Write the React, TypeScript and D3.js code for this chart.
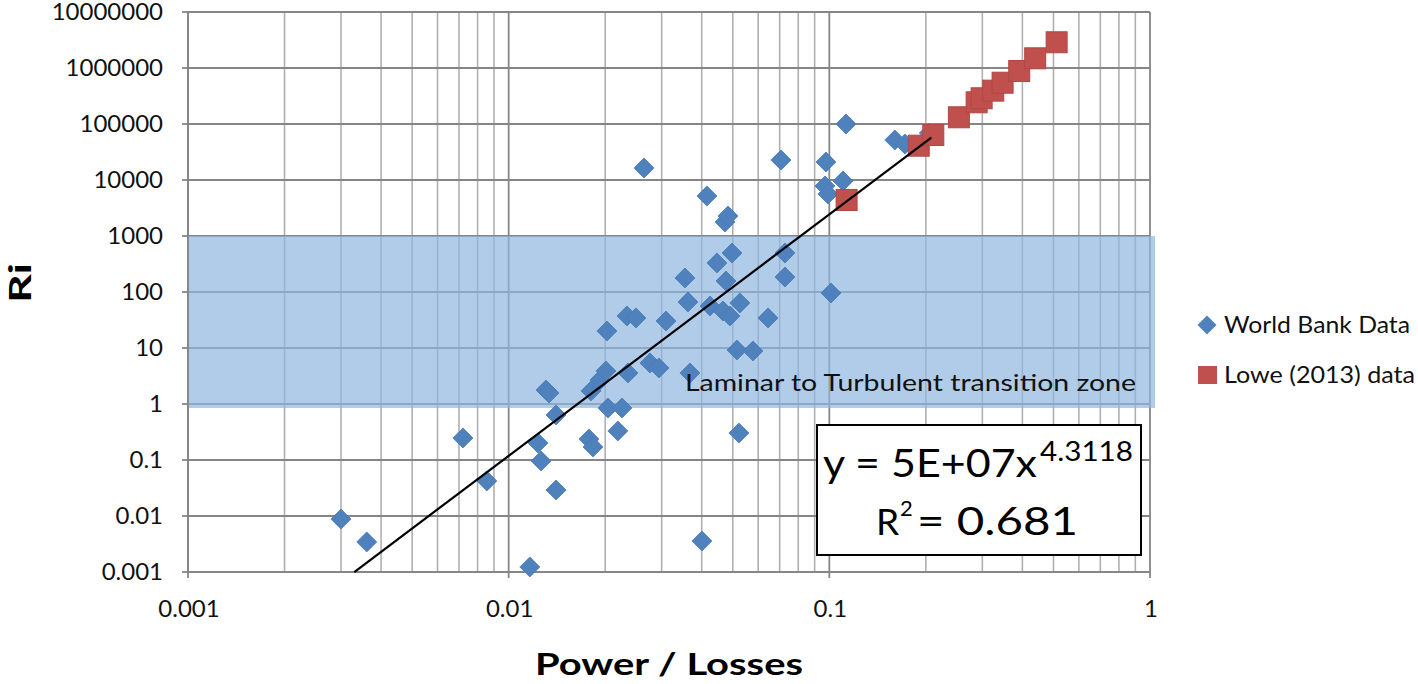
import React from "react";
import * as d3 from "d3";

// ---------- data ----------
const xTickValues = [0.001, 0.01, 0.1, 1];
const xTickLabels = ["0.001", "0.01", "0.1", "1"];
const yTickValues = [0.001, 0.01, 0.1, 1, 10, 100, 1000, 10000, 100000, 1000000, 10000000];
const yTickLabels = ["0.001", "0.01", "0.1", "1", "10", "100", "1000", "10000", "100000", "1000000", "10000000"];

const worldBankX = [
  0.003, 0.00361, 0.0072, 0.00855, 0.01164, 0.01234, 0.01262, 0.01307, 0.01336, 0.01405,
  0.01405, 0.0178, 0.01832, 0.01806, 0.01926, 0.0201, 0.02025, 0.0204, 0.0219, 0.02256,
  0.02338, 0.02494, 0.02355, 0.02643, 0.02758, 0.02942, 0.03094, 0.03546, 0.03623, 0.03675,
  0.04005, 0.04153, 0.04244, 0.04462, 0.04659, 0.04726, 0.0483, 0.0476, 0.04898, 0.0497,
  0.0515, 0.05224, 0.0526, 0.0578, 0.0644, 0.0707, 0.0727, 0.0727, 0.0976, 0.0969,
  0.099, 0.1012, 0.1103, 0.1127, 0.16, 0.172, 0.205,
];
const worldBankY = [
  0.0088, 0.00344, 0.247, 0.0422, 0.00123, 0.201, 0.096, 1.78, 1.57, 0.637,
  0.0291, 0.237, 0.171, 1.71, 2.68, 3.88, 20.1, 0.849, 0.33, 0.849,
  37.3, 34.4, 3.58, 16400, 5.4, 4.4, 30.3, 178, 66.3, 3.58,
  0.00358, 5180, 56.2, 330, 45.8, 1778, 2275, 157, 37.3, 497,
  9.2, 0.303, 63.7, 8.84, 34.4, 22750, 497, 185, 20950, 7820,
  5620, 96, 9600, 100000, 51800, 44000, 69000,
];

const loweX = [0.1132, 0.19, 0.211, 0.2535, 0.288, 0.2985, 0.3245, 0.347, 0.391, 0.4385, 0.5115];
const loweY = [4400, 41000, 63600, 131800, 244000, 288000, 394000, 546000, 884000, 1490000, 2880000];

// power trendline as shown: y = 5E+07 x^4.3118, R² = 0.681
const trendCoef = 5e7;
const trendExp = 4.3118;
const trendXRange = [0.0033, 0.208];

// transition zone band (Ri)
const bandRi = [0.85, 1000];

const seriesNames = ["World Bank Data", "Lowe (2013) data"];

// ---------- layout ----------
const W = 1418;
const H = 684;
const left = 188;
const right = 1150;
const top = 12;
const bottom = 572;
const FONT = "Lato, 'Open Sans', sans-serif";

const x = d3.scaleLog().domain([0.001, 1]).range([left, right]);
const y = d3.scaleLog().domain([0.001, 1e7]).range([bottom, top]);

const blue = "#4F81BD";
const red = "#C0504D";
const majorGrid = "#868686";
const minorGrid = "#B0B0B0";

const minorXs: number[] = [];
for (let k = -3; k <= -1; k++) {
  for (let m = 2; m <= 9; m++) minorXs.push(m * Math.pow(10, k));
}

const diamond = (cx: number, cy: number, r: number) =>
  `M${cx},${cy - r}L${cx + r},${cy}L${cx},${cy + r}L${cx - r},${cy}Z`;

export default function App() {
  const trendLine = d3
    .line<number>()
    .x((d) => x(d))
    .y((d) => y(trendCoef * Math.pow(d, trendExp)))(trendXRange);

  return (
    <svg
      width={W}
      height={H}
      style={{ position: "absolute", left: 0, top: 0, background: "#fff" }}
      fontFamily={FONT}
    >
      <rect x={0} y={0} width={W} height={H} fill="#fff" />

      {/* minor vertical grid */}
      {minorXs.map((v, i) => (
        <line key={"mx" + i} x1={x(v)} x2={x(v)} y1={top} y2={bottom} stroke={minorGrid} strokeWidth={1.6} />
      ))}
      {/* major horizontal grid */}
      {yTickValues.map((v, i) => (
        <line key={"gy" + i} x1={left} x2={right} y1={y(v)} y2={y(v)} stroke={majorGrid} strokeWidth={1.8} />
      ))}
      {/* major vertical grid */}
      {xTickValues.map((v, i) => (
        <line key={"gx" + i} x1={x(v)} x2={x(v)} y1={top} y2={bottom} stroke={majorGrid} strokeWidth={1.8} />
      ))}

      {/* transition band */}
      <rect
        x={left}
        y={y(bandRi[1])}
        width={right - left + 5}
        height={y(bandRi[0]) - y(bandRi[1])}
        fill="#8FB7E0"
        fillOpacity={0.7}
      />

      {/* axes lines and ticks */}
      <line x1={left} x2={left} y1={top} y2={bottom} stroke={majorGrid} strokeWidth={1.8} />
      <line x1={left} x2={right} y1={bottom} y2={bottom} stroke={majorGrid} strokeWidth={1.8} />
      {yTickValues.map((v, i) => (
        <line key={"ty" + i} x1={left - 6} x2={left} y1={y(v)} y2={y(v)} stroke={majorGrid} strokeWidth={1.8} />
      ))}
      {xTickValues.map((v, i) => (
        <line key={"tx" + i} x1={x(v)} x2={x(v)} y1={bottom} y2={bottom + 6} stroke={majorGrid} strokeWidth={1.8} />
      ))}

      {/* tick labels */}
      {yTickValues.map((v, i) => (
        <text key={"ly" + i} x={163} y={y(v)} dy="0.34em" textAnchor="end" fontSize={24} fill="#111">
          {yTickLabels[i]}
        </text>
      ))}
      {xTickValues.map((v, i) => (
        <text key={"lx" + i} x={x(v) + 1} y={617} textAnchor="middle" fontSize={24} fill="#111">
          {xTickLabels[i]}
        </text>
      ))}

      {/* World Bank markers */}
      {worldBankX.map((v, i) => (
        <path key={"wb" + i} d={diamond(x(v), y(worldBankY[i]), 10)} fill={blue} stroke="#4A7AB5" strokeWidth={0.8} />
      ))}
      {/* Lowe markers */}
      {loweX.map((v, i) => (
        <rect
          key={"lo" + i}
          x={x(v) - 10.5}
          y={y(loweY[i]) - 10.5}
          width={21}
          height={21}
          fill={red}
          stroke="#B04845"
          strokeWidth={1}
        />
      ))}

      {/* trendline */}
      <path d={trendLine || ""} fill="none" stroke="#000" strokeWidth={2.2} />

      {/* band annotation */}
      <text x={685} y={391} fontSize={23} fill="#111" textLength={451} lengthAdjust="spacingAndGlyphs">
        Laminar to Turbulent transition zone
      </text>

      {/* equation box */}
      <rect x={817} y={425} width={324} height={130} fill="#fff" stroke="#000" strokeWidth={2} />
      <text x={823} y={477} fontSize={39} fill="#000" textLength={214} lengthAdjust="spacingAndGlyphs">
        y = 5E+07x
      </text>
      <text x={1040} y={461} fontSize={26} fill="#000" textLength={93} lengthAdjust="spacingAndGlyphs">
        4.3118
      </text>
      <text x={876} y={535} fontSize={37} fill="#000">
        R
      </text>
      <text x={900} y={516} fontSize={22} fill="#000">
        2
      </text>
      <text x={917} y={535} fontSize={39} fill="#000" textLength={161} lengthAdjust="spacingAndGlyphs">
        = 0.681
      </text>

      {/* legend */}
      <path d={diamond(1207, 325, 9.5)} fill={blue} />
      <text x={1224} y={333} fontSize={23} fill="#111" textLength={186} lengthAdjust="spacingAndGlyphs">
        {seriesNames[0]}
      </text>
      <rect x={1198} y={366} width={19} height={18} fill={red} />
      <text x={1224} y={383} fontSize={23} fill="#111" textLength={191} lengthAdjust="spacingAndGlyphs">
        {seriesNames[1]}
      </text>

      {/* axis titles */}
      <text
        x={669}
        y={675}
        textAnchor="middle"
        fontSize={31}
        fontWeight="bold"
        fill="#000"
        textLength={268}
        lengthAdjust="spacingAndGlyphs"
      >
        Power / Losses
      </text>
      <text
        transform="translate(31,283) rotate(-90)"
        textAnchor="middle"
        fontSize={30}
        fontWeight="bold"
        fill="#000"
        textLength={40}
        lengthAdjust="spacingAndGlyphs"
      >
        Ri
      </text>
    </svg>
  );
}
